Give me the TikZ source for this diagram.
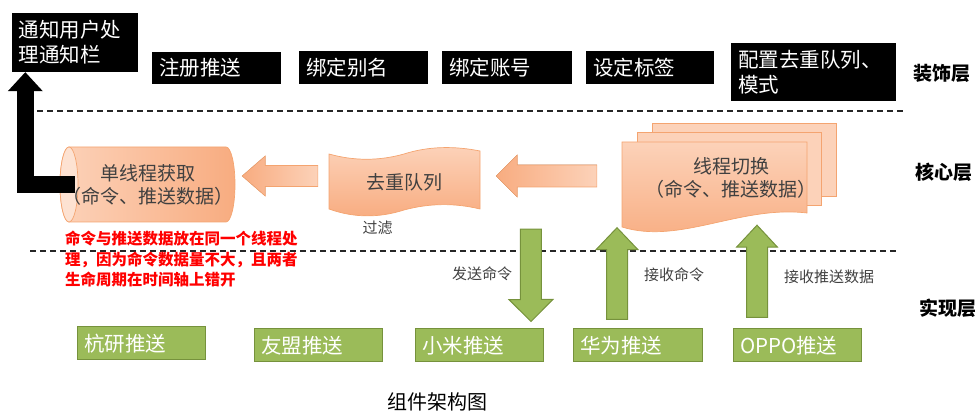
\documentclass[tikz,border=0pt]{standalone}
\usepackage{fontspec}
\newfontfamily\cjk{Noto Sans CJK SC}
\usetikzlibrary{arrows.meta, positioning, calc}
\definecolor{orlight}{RGB}{252, 210, 185}
\definecolor{ordark}{RGB}{248, 172, 128}
\definecolor{orend}{RGB}{253, 226, 210}
\definecolor{orline}{RGB}{244, 164, 112}
\definecolor{implgreen}{RGB}{155, 187, 89}
\definecolor{implborder}{RGB}{118, 146, 60}
\definecolor{inktext}{RGB}{64, 64, 64}
\tikzset{
  decobox/.style={fill=black, text=white, font=\cjk\fontsize{20.5}{25}\selectfont, align=left, inner xsep=7pt, inner ysep=0pt},
  implbox/.style={fill=implgreen, draw=implborder, line width=1pt, text=white, font=\cjk\fontsize{20.5}{24}\selectfont, align=left, inner xsep=7pt, inner ysep=0pt, text width=114pt, minimum height=33pt},
  corebox/.style={text=inktext, font=\cjk\fontsize{19}{23}\selectfont, align=center, inner sep=0pt},
  layerlabel/.style={font=\cjk\bfseries\fontsize{19}{22}\selectfont, anchor=west},
  note/.style={text=inktext, font=\cjk\fontsize{15}{18}\selectfont},
  layerline/.style={dash pattern=on 6pt off 4pt, line width=1.2pt, black!85},
  orshape/.style={draw=orline, line width=0.7pt},
  orarrow/.style={left color=ordark, right color=orlight, draw=orline, line width=0.6pt},
  grarrow/.style={fill=implgreen, draw=implborder, line width=1pt},
  notifyarrow/.style={line width=17pt, -{Triangle[width=35pt, length=19pt, line width=0pt]}}
}
% block arrow: [style]{tail}{tip}{half shaft}{half head}{head length}
\newcommand{\blockarrow}[6][]{%
  \coordinate (ba-base) at ($(#3)!#6!(#2)$);
  \filldraw[#1] ($(#2)!#4!90:(#3)$) -- ($(ba-base)!#4!90:(#3)$) -- ($(ba-base)!#5!90:(#3)$) -- (#3)
    -- ($(ba-base)!#5!-90:(#3)$) -- ($(ba-base)!#4!-90:(#3)$) -- ($(#2)!#4!-90:(#3)$) -- cycle;
}
\begin{document}
\begin{tikzpicture}[x=1pt, y=-1pt]
\useasboundingbox (0,0) rectangle (980,419);
% layer separators
\draw[layerline] (17,111) -- (905,111);
\draw[layerline] (30,251) -- (897,251);

% decoration layer
\node[decobox, text width=112pt, minimum height=59pt] (notify) at (75,42.5) {通知用户处\\理通知栏};
\node[decobox, text width=115pt, minimum height=32pt] (reg) at (216.5,68) {注册推送};
\node[decobox, text width=115pt, minimum height=33pt] (alias) at (363.5,68) {绑定别名};
\node[decobox, text width=116pt, minimum height=33pt] (account) at (507,68) {绑定账号};
\node[decobox, text width=114pt, minimum height=33pt] (tag) at (650,68) {设定标签};
\node[decobox, text width=151pt, minimum height=58pt] (config) at (813.5,72) {配置去重队列、\\模式};

% core layer shapes
\shadedraw[orshape, left color=orlight, right color=ordark] (69,147) -- (226,147)
  arc[start angle=90, end angle=-90, x radius=9pt, y radius=37.5pt] -- (69,222)
  arc[start angle=270, end angle=90, x radius=9pt, y radius=37.5pt] -- cycle;
\filldraw[orshape, fill=orend] (69,184.5) ellipse[x radius=9pt, y radius=37.5pt];
\shadedraw[orshape, top color=orlight, bottom color=ordark] (329,154)
  .. controls (354,161) and (379,161) .. (404,154)
  .. controls (429,146) and (455,146) .. (480,151) -- (480,209)
  .. controls (455,203) and (430,203) .. (404,210)
  .. controls (379,218) and (354,218) .. (329,209) -- cycle;
\filldraw[orshape, fill=orlight] (652,123) rectangle (836,196);
\filldraw[orshape, fill=orlight] (637,132) rectangle (821,205);
\shadedraw[orshape, top color=orlight, bottom color=ordark] (622,142) -- (807,142) -- (807,213)
  .. controls (740,205) and (680,245) .. (622,227) -- cycle;

\node[corebox, minimum width=175pt, minimum height=75pt] (fetch) at (147.5,184.5) {单线程获取\\（命令、推送数据）};
\node[corebox, minimum width=151pt, minimum height=70pt] (dedup) at (404.5,182) {去重队列};
\node[corebox, minimum width=185pt, minimum height=100pt] (thread) at (731,177.5) {线程切换\\（命令、推送数据）};
\node[note, below=0pt of dedup, xshift=-27pt] (filter) {过滤};

\coordinate (qtail) at ([xshift=-11pt, yshift=6pt]dedup.west);
\coordinate (qtip) at ([xshift=7pt, yshift=8.5pt]fetch.east);
\coordinate (ttail) at ([xshift=-41.5pt, yshift=1.5pt]thread.west);
\coordinate (ttip) at ([xshift=16pt, yshift=6pt]dedup.east);
\blockarrow[orarrow]{qtail}{qtip}{10.5pt}{20pt}{23pt}
\blockarrow[orarrow]{ttail}{ttip}{11pt}{21pt}{21pt}

\draw[notifyarrow] ([xshift=15pt]fetch.west) -| ([xshift=13.5pt]notify.south west);

\node[anchor=north west, inner sep=0pt, text=red, align=left,
  font=\cjk\bfseries\fontsize{15.5}{20.5}\selectfont] (reason) at (65,231)
  {命令与推送数据放在同一个线程处\\理，因为命令数据量不大，且两者\\生命周期在时间轴上错开};

% implementation layer
\node[implbox, text width=114pt] (hangyan) at (141,343.5) {杭研推送};
\node[implbox] (umeng) at (318,345.5) {友盟推送};
\node[implbox] (xiaomi) at (479,345.5) {小米推送};
\node[implbox, text width=115pt] (huawei) at (637.5,345.5) {华为推送};
\node[implbox] (oppo) at (797,345.5) {OPPO推送};

\coordinate (sendtail) at ([xshift=-107.5pt, yshift=-1.5pt]thread.south west);
\coordinate (sendtip) at ([xshift=52pt, yshift=7pt]xiaomi.north);
\coordinate (cmdtail) at ([xshift=-20.5pt, yshift=9pt]huawei.north);
\coordinate (cmdtip) at ([xshift=-114pt]thread.south);
\coordinate (datatail) at ([xshift=-40pt, yshift=11pt]oppo.north);
\coordinate (datatip) at ([xshift=26pt, yshift=2.5pt]thread.south);
\blockarrow[grarrow]{sendtail}{sendtip}{10.5pt}{22pt}{22pt}
\blockarrow[grarrow]{cmdtail}{cmdtip}{10.5pt}{21pt}{22pt}
\blockarrow[grarrow]{datatail}{datatip}{10.5pt}{20.5pt}{22pt}

\node[note] (send) at (482,274) {发送命令};
\node[note] (recvcmd) at (674,275) {接收命令};
\node[note] (recvdata) at (829,277) {接收推送数据};

% layer names
\node[layerlabel] (decolayer) at (910,73) {装饰层};
\node[layerlabel] (corelayer) at (912,172) {核心层};
\node[layerlabel] (impllayer) at (916,308) {实现层};

\node[font=\cjk\fontsize{20}{24}\selectfont] (title) at (437,402) {组件架构图};
\end{tikzpicture}
\end{document}
